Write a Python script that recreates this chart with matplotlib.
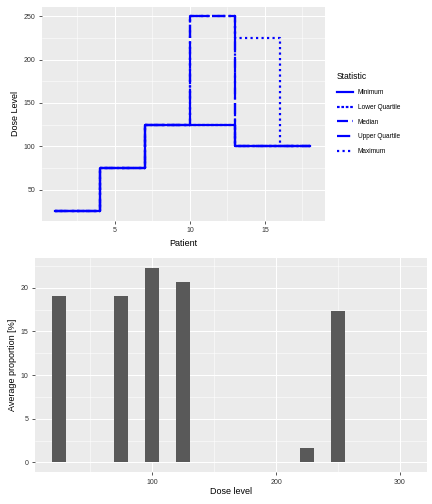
import matplotlib
matplotlib.use("Agg")
import matplotlib.pyplot as plt
import numpy as np

patients = np.arange(1, 19)
minimum = [25]*3 + [75]*3 + [125]*6 + [100]*6
lower_q = [25]*3 + [75]*3 + [125]*6 + [100]*6
median = [25]*3 + [75]*3 + [125]*3 + [250]*3 + [100]*6
upper_q = [25]*3 + [75]*3 + [125]*3 + [250]*3 + [100]*6
maximum = [25]*3 + [75]*3 + [125]*3 + [250]*3 + [225]*3 + [100]*3

doses = [25, 75, 100, 125, 225, 250]
avg_prop = [19.0, 19.0, 22.3, 20.6, 1.6, 17.3]

plt.rcParams['font.family'] = ['Liberation Sans', 'DejaVu Sans']
fig = plt.figure(figsize=(6, 7), dpi=72)
bg = '#EBEBEB'

def style(ax):
    ax.set_facecolor(bg)
    ax.grid(True, which='major', color='white', lw=1.0)
    ax.grid(True, which='minor', color='white', lw=0.5)
    ax.set_axisbelow(True)
    for s in ax.spines.values():
        s.set_visible(False)
    ax.tick_params(which='both', colors='#333333', labelsize=7, length=3)
    ax.tick_params(which='minor', length=0)

ax1 = fig.add_axes([42/432, 1-221/504, 283/432, 214.5/504])
style(ax1)
series = [("Minimum", minimum, '-'), ("Lower Quartile", lower_q, (0, (1.2, 0.8))),
          ("Median", median, (0, (5, 2))), ("Upper Quartile", upper_q, (0, (6, 1.5, 1, 1.5))),
          ("Maximum", maximum, (0, (1, 1.5)))]
for name, vals, ls in series:
    ax1.step(patients, vals, where='post', color='blue', lw=2.2, ls=ls, label=name)
ax1.set_xlim(0.15, 19.0)
ax1.set_ylim(13.75, 261.25)
ax1.set_xticks([5, 10, 15]); ax1.set_xticks([2.5, 7.5, 12.5, 17.5], minor=True)
ax1.set_yticks([50, 100, 150, 200, 250]); ax1.set_yticks([75, 125, 175, 225], minor=True)
ax1.set_xlabel("Patient", fontsize=9)
ax1.set_ylabel("Dose Level", fontsize=9)
leg = ax1.legend(title="Statistic", loc='center left', bbox_to_anchor=(1.02, 0.5),
                 frameon=False, fontsize=6.5, title_fontsize=8.5, handlelength=2.5,
                 labelspacing=1.2, alignment='left')

ax2 = fig.add_axes([35/432, 1-472/504, 392/432, 214/504])
style(ax2)
ax2.bar(doses, avg_prop, width=12, color='#595959')
ax2.set_xlim(5.6, 321.8)
ax2.set_ylim(-1.1, 23.4)
ax2.set_xticks([100, 200, 300]); ax2.set_xticks([50, 150, 250], minor=True)
ax2.set_yticks([0, 5, 10, 15, 20]); ax2.set_yticks([2.5, 7.5, 12.5, 17.5, 22.5], minor=True)
ax2.set_xlabel("Dose level", fontsize=9, labelpad=2)
ax2.set_ylabel("Average proportion [%]", fontsize=9)

fig.savefig("out.png", dpi=72)
